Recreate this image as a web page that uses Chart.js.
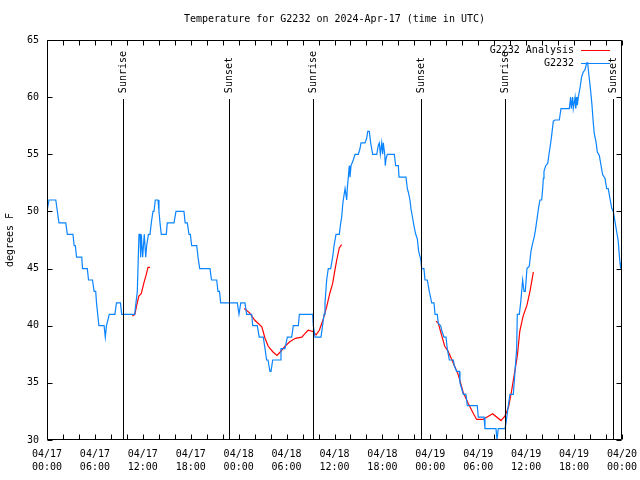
<!DOCTYPE html>
<html>
<head>
<meta charset="utf-8">
<script src="https://cdn.jsdelivr.net/npm/chart.js@4/dist/chart.umd.min.js"></script>
<style>html,body{margin:0;padding:0;background:#fff;}canvas{display:block;}</style>
</head>
<body>
<canvas id="c" width="640" height="480"></canvas>
<script>
// ---- data (hours since 2024-04-17 00:00 UTC) ----
const chartTitle = 'Temperature for G2232 on 2024-Apr-17 (time in UTC)';
const yAxisTitle = 'degrees F';
const tickDates = ['04/17','04/17','04/17','04/17','04/18','04/18','04/18','04/18','04/19','04/19','04/19','04/19','04/20'];
const tickTimes = ['00:00','06:00','12:00','18:00','00:00','06:00','12:00','18:00','00:00','06:00','12:00','18:00','00:00'];
const sunHours = [9.52, 22.79, 33.31, 46.83, 57.35, 70.87];
const sunLabels = ['Sunrise','Sunset','Sunrise','Sunset','Sunrise','Sunset'];

const obsLabel = 'G2232';
const obsHours = [0,0.25,1.1,1.5,2.35,2.55,3.25,3.4,3.55,3.7,4.35,4.45,5.05,5.2,5.7,5.9,6.1,6.2,6.35,6.5,7.15,7.3,7.45,7.8,8.5,8.7,9.2,9.35,10.98,11.14,11.31,11.43,11.52,11.65,11.73,11.81,11.98,12.18,12.36,12.48,12.7,12.9,13.06,13.27,13.4,13.56,13.9,14.02,14.15,14.31,14.94,15.06,15.9,16.15,17.15,17.3,17.57,17.78,17.95,18.12,18.75,18.91,19.12,20.41,20.6,21.25,21.41,21.6,21.75,23.83,24.04,24.26,24.79,25.0,25.63,25.76,26.33,26.58,27.08,27.3,27.5,27.67,27.92,28.05,28.26,29.18,29.3,29.8,30.09,30.64,30.84,31.47,31.6,33.27,33.35,33.56,34.31,34.69,34.81,35.02,35.22,35.52,35.77,35.94,36.19,36.6,36.78,36.9,37.03,37.1,37.32,37.53,37.6,37.73,37.85,37.94,38.07,38.35,38.57,38.98,39.19,39.32,39.82,40.03,40.16,40.36,40.53,40.78,41.29,41.49,41.61,41.74,41.91,42.03,42.11,42.29,42.36,42.45,42.61,43.49,43.66,43.99,44.08,44.95,45.12,45.24,45.45,45.58,45.74,45.96,46.17,46.37,46.54,46.8,46.92,47.2,47.33,47.62,47.87,48.17,48.46,48.59,48.87,49.0,49.3,49.42,49.71,49.96,50.12,50.38,50.88,51.0,51.3,51.63,51.71,52.13,52.46,52.63,53.88,54.0,54.72,54.84,56.22,56.35,56.51,57.35,57.48,57.76,57.97,58.39,58.6,58.81,58.89,59.14,59.31,59.56,59.73,59.89,60.1,60.39,60.6,60.77,61.02,61.19,61.39,61.57,61.73,61.94,62.07,62.15,62.23,62.45,62.7,62.86,63.07,63.2,63.4,63.61,64.15,64.36,65.4,65.57,65.65,65.82,65.9,66.12,66.2,66.37,66.41,66.53,66.74,66.95,67.16,67.37,67.58,67.71,67.78,68.08,68.24,68.41,68.53,68.74,68.91,69.16,69.33,69.58,69.87,70.08,70.28,70.5,70.71,70.91,71.12,71.34,71.53,71.66,71.75,71.84];
const obsTemps = [50,51,51,49,49,48,48,47,47,46,46,45,45,44,44,43,43,42,41,40,40,39,40,41,41,42,42,41,41,42,43,46,48,48,46,48,46,48,46,47,48,48,49,50,50,51,51,50,49,48,48,49,49,50,50,49,49,48,48,47,47,46,45,45,44,44,43,43,42,42,41,42,42,41,41,40,40,39,39,38,37,37,36,36,37,37,38,38,39,39,40,40,41,41,40,39,39,41,42,44,45,45,46,47,48,48,49,49.5,50.6,51,52,51,52,53,54,53,54,54.5,55,55,55.5,56,56,56.4,57,57,56,55,55,55.8,56,55,56,55,56,55,54,54.6,55,55,54,54,53,53,52,51.7,51,50.2,49.6,48.7,48,47.6,46.5,45.8,45,45,44,44,43,42,42,41,41,40.2,40,39.6,39,39,38,37,37,36.5,36,36,35,34,34,33,33,32,32,31,31,30,31,31,31.5,33,34,34,36,38,41,41,42,44,43,43,45,45.2,46.5,47.1,47.8,48.5,49.5,50.4,51,51,52,52.9,53.5,54,54.2,55,56,56.7,57.9,58,58,59,59,60,59,60,59,60,59,60,59.3,60,60.8,61.8,62.2,62.4,63,63,62.4,60.5,59.3,57.7,56.8,56.1,55.2,54.9,54.2,53.2,52.9,52,52,51.1,50.3,50,49.1,48.2,47.4,46.2,45.5,45];

const anaLabel = 'G2232 Analysis';
const anaHours = [10.7,11.0,11.2,11.5,11.8,12.15,12.4,12.65,12.9,13.0,
  24.7,25.4,26.0,26.9,27.3,27.7,28.3,28.8,29.2,29.8,30.4,31.1,31.9,32.3,32.7,33.3,33.7,34.1,34.6,35.0,35.4,35.77,36.06,36.28,36.6,36.9,37.0,
  48.7,49.0,49.4,49.8,50.2,50.9,51.5,52.1,52.75,53.4,53.8,54.6,55.8,56.85,57.35,57.8,58.2,58.6,58.9,59.2,59.6,60.1,60.5,60.9];
const anaTemps = [40.85,41.0,41.7,42.6,42.8,43.8,44.4,45.1,45.1,null,
  41.5,41.1,40.5,39.9,38.9,38.2,37.7,37.4,37.7,38.2,38.6,38.9,39.0,39.3,39.6,39.5,39.2,39.6,40.6,41.6,42.8,43.7,44.9,45.75,46.8,47.1,null,
  40.4,40.2,39.2,38.2,37.8,36.7,35.7,34.2,33.2,32.3,31.8,31.8,32.3,31.7,32.1,32.9,34.4,36.1,37.4,39.5,40.8,41.8,43.1,44.7];

const xMin = 0, xMax = 72, xStep = 6, xMinorStep = 2;
const yMin = 30, yMax = 65, yStep = 5;
const sunLineTop = 59.8;   // value where the sun marker lines start
const sunLabelBase = 60.35; // value where the rotated labels start

// ---- chart ----
const FONT = "'DejaVu Sans Mono', 'Liberation Mono', monospace";
Chart.defaults.font.family = FONT;
Chart.defaults.font.size = 10;
Chart.defaults.color = '#000';

const toXY = (xs, ys) => xs.map((x, i) => ({x: x, y: ys[i]}));

const decor = {
  id: 'decor',
  afterDatasetsDraw(chart) {
    const ctx = chart.ctx, a = chart.chartArea;
    const xs = chart.scales.x, ys = chart.scales.y;
    const r = v => Math.round(v) + 0.5;
    ctx.save();
    ctx.strokeStyle = '#000';
    ctx.lineWidth = 1;
    // sun markers
    ctx.font = '10px ' + FONT;
    ctx.fillStyle = '#000';
    sunHours.forEach((h, i) => {
      const px = r(xs.getPixelForValue(h));
      ctx.beginPath();
      ctx.moveTo(px, Math.round(ys.getPixelForValue(sunLineTop)));
      ctx.lineTo(px, a.bottom);
      ctx.stroke();
      ctx.save();
      ctx.translate(px, ys.getPixelForValue(sunLabelBase));
      ctx.rotate(-Math.PI / 2);
      ctx.textAlign = 'left';
      ctx.textBaseline = 'middle';
      ctx.fillText(sunLabels[i], 0, 0);
      ctx.restore();
    });
    // border
    const L = r(a.left), R = r(a.right) - 1, T = r(a.top), B = r(a.bottom) - 1;
    ctx.beginPath();
    ctx.rect(L, T, R - L, B - T);
    ctx.stroke();
    // ticks
    ctx.beginPath();
    for (let h = xMin; h <= xMax; h += xMinorStep) {
      const px = r(xs.getPixelForValue(h));
      ctx.moveTo(px, B); ctx.lineTo(px, B - 5);
      ctx.moveTo(px, T); ctx.lineTo(px, T + 5);
    }
    for (let v = yMin; v <= yMax; v += yStep) {
      const py = r(ys.getPixelForValue(v));
      ctx.moveTo(L, py); ctx.lineTo(L + 5, py);
      ctx.moveTo(R, py); ctx.lineTo(R - 5, py);
    }
    ctx.stroke();
    // title
    ctx.textAlign = 'center';
    ctx.textBaseline = 'middle';
    ctx.fillText(chartTitle, (a.left + a.right) / 2, 19);
    // y axis title
    ctx.save();
    ctx.translate(10, (a.top + a.bottom) / 2);
    ctx.rotate(-Math.PI / 2);
    ctx.fillText(yAxisTitle, 0, 0);
    ctx.restore();
    // legend (in dataset drawing order: analysis first)
    const items = [chart.data.datasets[1], chart.data.datasets[0]];
    items.forEach((ds, i) => {
      const y = 50 + i * 13;
      ctx.textAlign = 'right';
      ctx.fillStyle = '#000';
      ctx.fillText(ds.label, 574, y);
      ctx.strokeStyle = ds.borderColor;
      ctx.beginPath();
      ctx.moveTo(581, Math.round(y) + 0.5);
      ctx.lineTo(610, Math.round(y) + 0.5);
      ctx.stroke();
    });
    ctx.restore();
  }
};

new Chart(document.getElementById('c'), {
  type: 'line',
  data: {
    datasets: [
      { label: obsLabel, data: toXY(obsHours, obsTemps), borderColor: '#0a84ff', borderWidth: 1.2,
        pointRadius: 0, tension: 0, fill: false },
      { label: anaLabel, data: toXY(anaHours, anaTemps), borderColor: '#ff0000', borderWidth: 1.2,
        pointRadius: 0, tension: 0, fill: false, spanGaps: false }
    ]
  },
  options: {
    responsive: false,
    devicePixelRatio: 1,
    animation: false,
    layout: { padding: { left: 0, top: 40, right: 18, bottom: 0 } },
    plugins: { legend: { display: false }, title: { display: false }, tooltip: { enabled: false } },
    scales: {
      x: {
        type: 'linear', min: xMin, max: xMax,
        grid: { display: false }, border: { display: false },
        afterFit: s => { s.height = 40; s.paddingLeft = 0; s.paddingRight = 0; },
        ticks: {
          stepSize: xStep, autoSkip: false, maxRotation: 0, padding: 0,
          font: { size: 10, lineHeight: 1.3 },
          callback: (v) => { const i = Math.round((v - xMin) / xStep); return [tickDates[i], tickTimes[i]]; }
        }
      },
      y: {
        min: yMin, max: yMax,
        grid: { display: false }, border: { display: false },
        afterFit: s => { s.width = 47; s.paddingTop = 0; s.paddingBottom = 0; },
        ticks: { stepSize: yStep, padding: 0, font: { size: 10 } }
      }
    }
  },
  plugins: [decor]
});
</script>
</body>
</html>
